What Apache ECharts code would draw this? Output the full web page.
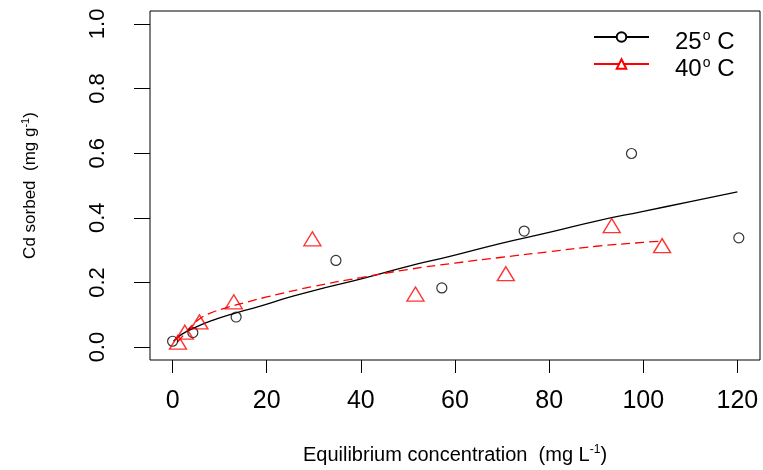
<!DOCTYPE html>
<html>
<head>
<meta charset="utf-8">
<script src="https://cdn.jsdelivr.net/npm/echarts@6/dist/echarts.min.js"></script>
<style>
html,body{margin:0;padding:0;background:#fff;}
#chart{width:763px;height:470px;}
</style>
</head>
<body>
<div id="chart"></div>
<script>
// Observed data, 25 deg C (circles)
var obs25X = [0, 4.3, 13.5, 34.7, 57.2, 74.7, 97.5, 120.3];
var obs25Y = [0.018, 0.045, 0.093, 0.268, 0.183, 0.359, 0.599, 0.338];
// Observed data, 40 deg C (triangles)
var obs40X = [1.15, 2.6, 5.7, 13.0, 29.7, 51.6, 70.8, 93.3, 104.0];
var obs40Y = [0.015, 0.046, 0.078, 0.14, 0.335, 0.164, 0.227, 0.376, 0.314];
// Fitted curve, 25 deg C (solid black)
var fit25X = [0.2, 2, 4.4, 8, 13.5, 17, 25, 30, 40.3, 50, 58.7, 70, 80, 90, 100, 110, 120];
var fit25Y = [0.018, 0.04, 0.058, 0.08, 0.106, 0.12, 0.155, 0.175, 0.212, 0.25, 0.28, 0.322, 0.355, 0.39, 0.42, 0.45, 0.48];
// Fitted curve, 40 deg C (dashed red)
var fit40X = [1, 2.5, 4, 6, 8, 11, 16, 20, 30, 40, 50, 60, 70, 80, 90, 100, 104];
var fit40Y = [0.015, 0.04, 0.065, 0.09, 0.105, 0.12, 0.14, 0.155, 0.188, 0.215, 0.24, 0.26, 0.278, 0.295, 0.312, 0.324, 0.328];
// Tick labels
var xTicks = [0, 20, 40, 60, 80, 100, 120];
var yTicks = [0, 0.2, 0.4, 0.6, 0.8, 1.0];
var seriesNames = ['25° C', '40° C'];

function pairs(xs, ys) { return xs.map(function (x, i) { return [x, ys[i]]; }); }

var FONT = 'Liberation Sans, Arial, sans-serif';
var chart = echarts.init(document.getElementById('chart'), null, {renderer: 'canvas'});
chart.setOption({
  backgroundColor: '#fff',
  animation: false,
  textStyle: {fontFamily: FONT, color: '#000'},
  grid: {left: 150, top: 11, width: 610, height: 351, show: true, borderColor: '#000', borderWidth: 1, backgroundColor: 'transparent'},
  legend: {
    orient: 'vertical', left: 588, top: 24, itemGap: 2,
    itemWidth: 55, itemHeight: 12,
    data: seriesNames,
    lineStyle: {type: 'solid', width: 2},
    formatter: function (n) { var p = n.split('°'); return '{b|' + p[0] + '}{s|o}{b|' + p[1] + '}'; },
    textStyle: {
      fontFamily: FONT, color: '#000', padding: [10, 0, 0, 21],
      rich: {
        b: {fontSize: 24, fontFamily: FONT, color: '#000'},
        s: {fontSize: 14, fontFamily: FONT, color: '#000', padding: [0, 0, 12, 1]}
      }
    }
  },
  xAxis: {
    type: 'value', min: -4.8, max: 124.8,
    name: '{t|Equilibrium concentration  (mg L}{s|-1}{t|)}',
    nameLocation: 'middle', nameGap: 84,
    nameTextStyle: {rich: {
      t: {fontSize: 20, fontFamily: FONT, color: '#000'},
      s: {fontSize: 12, fontFamily: FONT, color: '#000', padding: [0, 0, 10, 0]}
    }},
    axisLine: {show: false, onZero: false},
    splitLine: {show: false},
    axisTick: {show: true, inside: false, length: 13, customValues: xTicks, lineStyle: {color: '#000', width: 1}},
    axisLabel: {customValues: xTicks, margin: 29, fontSize: 25, fontFamily: FONT, color: '#000',
      formatter: function (v) { return String(Math.round(v)); }}
  },
  yAxis: {
    type: 'value', min: -0.04, max: 1.04,
    name: '{t|Cd sorbed  (mg g}{s|-1}{t|)}',
    nameLocation: 'middle', nameGap: 110,
    nameTextStyle: {rich: {
      t: {fontSize: 17, fontFamily: FONT, color: '#000'},
      s: {fontSize: 11, fontFamily: FONT, color: '#000', padding: [0, 0, 9, 0]}
    }},
    axisLine: {show: false, onZero: false},
    splitLine: {show: false},
    axisTick: {show: true, inside: false, length: 16, customValues: yTicks, lineStyle: {color: '#000', width: 1}},
    axisLabel: {customValues: yTicks, rotate: 90, margin: 41, fontSize: 22, fontFamily: FONT, color: '#000',
      formatter: function (v) { return v.toFixed(1); }}
  },
  series: [
    {
      name: seriesNames[0], type: 'line', data: pairs(fit25X, fit25Y),
      symbol: 'emptyCircle', showSymbol: false, symbolSize: 10, smooth: true,
      lineStyle: {color: '#000', width: 1.3, type: 'solid'}, itemStyle: {color: '#000'},
      silent: true, z: 2
    },
    {
      name: seriesNames[1], type: 'line', data: pairs(fit40X, fit40Y),
      symbol: 'emptyTriangle', showSymbol: false, symbolSize: 14, smooth: true,
      lineStyle: {color: '#ff0000', width: 1.3, type: [9, 5]}, itemStyle: {color: '#ff0000'},
      silent: true, z: 2
    },
    {
      name: seriesNames[0], type: 'scatter', data: pairs(obs25X, obs25Y),
      symbol: 'circle', symbolSize: 10,
      itemStyle: {color: 'transparent', borderColor: '#000', borderWidth: 1.2}, z: 3
    },
    {
      name: seriesNames[1], type: 'scatter', data: pairs(obs40X, obs40Y),
      symbol: 'triangle', symbolSize: [17, 14],
      itemStyle: {color: 'transparent', borderColor: '#ff0000', borderWidth: 1.4}, z: 3
    }
  ]
});
</script>
</body>
</html>
